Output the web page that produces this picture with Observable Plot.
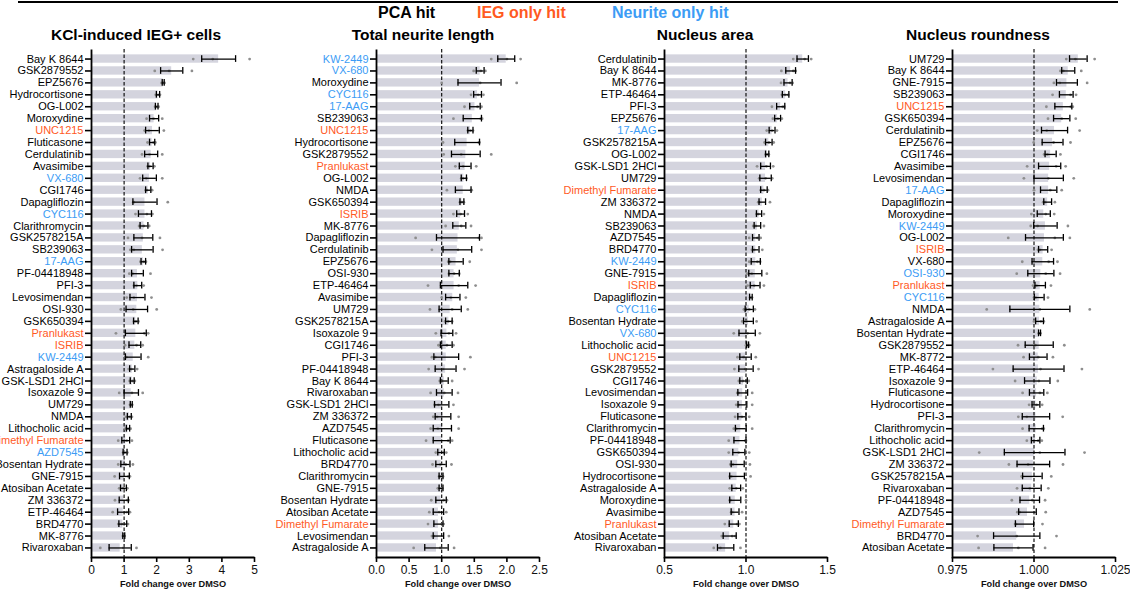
<!DOCTYPE html>
<html><head><meta charset="utf-8">
<script src="https://cdn.jsdelivr.net/npm/d3@7"></script>
<script src="https://cdn.jsdelivr.net/npm/@observablehq/plot@0.6"></script>
<style>
body{margin:0;width:1130px;height:595px;overflow:hidden;background:#fff;position:relative;font-family:"Liberation Sans",Arial,Helvetica,sans-serif;color:#000}
.topline{position:absolute;left:18px;top:1px;width:1100px;height:2px;background:#000}
.legend{position:absolute;top:4px;font-weight:bold;font-size:16px;line-height:18px;white-space:nowrap}
.title{position:absolute;top:26px;font-weight:bold;font-size:15.5px;line-height:18px;transform:translateX(-50%);white-space:nowrap}
.panel{position:absolute;top:40px;width:289px;height:555px}
</style></head>
<body>
<div class="topline"></div>
<div id="legend"></div>
<div id="root"></div>
<script>
// ---------- legend / colours ----------
const legendLabels = ["PCA hit", "IEG only hit", "Neurite only hit"];
const legendColors = ["#000000", "#FF5A1F", "#3C9CF5"];
const iegOnly = ["UNC1215", "Pranlukast", "ISRIB", "Dimethyl Fumarate"];

// ---------- panel 1: KCl-induced IEG+ cells ----------
const iegTitle = "KCl-induced IEG+ cells";
const iegNames = ["Bay K 8644","GSK2879552","EPZ5676","Hydrocortisone","OG-L002","Moroxydine","UNC1215","Fluticasone","Cerdulatinib","Avasimibe","VX-680","CGI1746","Dapagliflozin","CYC116","Clarithromycin","GSK2578215A","SB239063","17-AAG","PF-04418948","PFI-3","Levosimendan","OSI-930","GSK650394","Pranlukast","ISRIB","KW-2449","Astragaloside A","GSK-LSD1 2HCl","Isoxazole 9","UM729","NMDA","Lithocholic acid","Dimethyl Fumarate","AZD7545","Bosentan Hydrate","GNE-7915","Atosiban Acetate","ZM 336372","ETP-46464","BRD4770","MK-8776","Rivaroxaban"];
const iegMean = [3.90,2.46,2.20,2.04,2.00,1.92,1.87,1.86,1.83,1.81,1.78,1.74,1.64,1.64,1.61,1.59,1.56,1.59,1.41,1.42,1.41,1.39,1.36,1.36,1.33,1.28,1.25,1.25,1.22,1.22,1.16,1.12,1.05,1.03,1.04,1.01,0.98,0.99,0.97,0.96,0.99,0.88];
const iegSem = [0.52,0.34,0.03,0.05,0.04,0.14,0.21,0.08,0.20,0.08,0.21,0.08,0.37,0.20,0.12,0.29,0.33,0.07,0.18,0.12,0.23,0.33,0.07,0.32,0.18,0.24,0.08,0.06,0.22,0.03,0.06,0.05,0.12,0.06,0.14,0.15,0.09,0.14,0.17,0.12,0.03,0.34];
const iegReps = [[3.12,3.72,4.85],[1.94,2.38,3.08],[2.15,2.21,2.24],[1.97,2.05,2.10],[1.95,2.00,2.06],[1.69,1.90,2.17],[1.63,1.76,2.22],[1.72,1.90,1.96],[1.55,1.78,2.17],[1.72,1.78,1.93],[1.49,1.68,2.17],[1.66,1.70,1.86],[1.28,1.30,2.34],[1.35,1.70,1.87],[1.46,1.60,1.77],[1.12,1.55,2.10],[1.19,1.30,2.18],[1.50,1.60,1.67],[1.16,1.26,1.81],[1.30,1.38,1.60],[1.08,1.30,1.84],[0.90,1.28,2.00],[1.30,1.36,1.44],[0.75,1.62,1.74],[1.03,1.38,1.57],[1.04,1.07,1.74],[1.14,1.22,1.40],[1.17,1.26,1.33],[0.85,1.24,1.57],[1.18,1.22,1.25],[1.06,1.17,1.24],[1.04,1.12,1.20],[0.82,1.08,1.24],[0.97,1.02,1.10],[0.82,1.05,1.27],[0.71,1.13,1.18],[0.85,0.97,1.10],[0.72,1.10,1.14],[0.65,1.08,1.18],[0.82,0.93,1.12],[0.96,0.99,1.02],[0.27,0.98,1.38]];
const iegBlue = ["VX-680","CYC116","17-AAG","KW-2449","AZD7545"];
const iegTicks = [0,1,2,3,4,5];

// ---------- panel 2: Total neurite length ----------
const neuTitle = "Total neurite length";
const neuNames = ["KW-2449","VX-680","Moroxydine","CYC116","17-AAG","SB239063","UNC1215","Hydrocortisone","GSK2879552","Pranlukast","OG-L002","NMDA","GSK650394","ISRIB","MK-8776","Dapagliflozin","Cerdulatinib","EPZ5676","OSI-930","ETP-46464","Avasimibe","UM729","GSK2578215A","Isoxazole 9","CGI1746","PFI-3","PF-04418948","Bay K 8644","Rivaroxaban","GSK-LSD1 2HCl","ZM 336372","AZD7545","Fluticasone","Lithocholic acid","BRD4770","Clarithromycin","GNE-7915","Bosentan Hydrate","Atosiban Acetate","Dimethyl Fumarate","Levosimendan","Astragaloside A"];
const neuMean = [1.99,1.59,1.58,1.55,1.51,1.47,1.44,1.39,1.37,1.36,1.34,1.33,1.31,1.29,1.27,1.25,1.24,1.22,1.19,1.19,1.17,1.13,1.11,1.08,1.07,1.07,1.06,1.04,1.04,1.00,1.02,1.01,1.00,0.99,0.99,0.99,0.99,0.99,0.95,0.95,0.95,0.92];
const neuSem = [0.13,0.06,0.33,0.06,0.08,0.14,0.04,0.19,0.22,0.09,0.04,0.12,0.03,0.06,0.10,0.33,0.22,0.11,0.08,0.21,0.11,0.17,0.05,0.09,0.09,0.19,0.16,0.06,0.12,0.11,0.12,0.14,0.13,0.05,0.08,0.03,0.03,0.08,0.08,0.07,0.08,0.18];
const neuReps = [[1.76,2.00,2.21],[1.49,1.60,1.67],[1.00,1.59,2.15],[1.45,1.56,1.64],[1.35,1.55,1.61],[1.18,1.60,1.62],[1.40,1.44,1.48],[1.02,1.57,1.58],[1.03,1.30,1.76],[1.21,1.33,1.53],[1.30,1.33,1.38],[1.08,1.45,1.46],[1.28,1.31,1.34],[1.18,1.29,1.40],[1.06,1.30,1.45],[0.60,1.57,1.61],[0.85,1.25,1.61],[1.10,1.13,1.43],[1.11,1.19,1.27],[0.79,1.26,1.52],[1.00,1.14,1.37],[0.82,1.16,1.40],[1.05,1.10,1.16],[0.91,1.11,1.22],[0.95,1.08,1.18],[0.85,0.90,1.44],[0.80,1.02,1.35],[0.97,1.00,1.16],[0.83,1.04,1.25],[0.89,0.95,1.18],[0.87,0.93,1.26],[0.83,0.94,1.26],[0.76,1.10,1.16],[0.91,1.03,1.07],[0.86,0.98,1.15],[0.96,0.99,1.02],[0.94,1.00,1.01],[0.84,1.03,1.08],[0.81,0.96,1.07],[0.79,1.00,1.03],[0.85,0.88,1.11],[0.57,0.98,1.19]];
const neuBlue = ["KW-2449","VX-680","CYC116","17-AAG"];
const neuTicks = [0,0.5,1,1.5,2,2.5];

// ---------- panel 3: Nucleus area ----------
const areaTitle = "Nucleus area";
const areaNames = ["Cerdulatinib","Bay K 8644","MK-8776","ETP-46464","PFI-3","EPZ5676","17-AAG","GSK2578215A","OG-L002","GSK-LSD1 2HCl","UM729","Dimethyl Fumarate","ZM 336372","NMDA","SB239063","AZD7545","BRD4770","KW-2449","GNE-7915","ISRIB","Dapagliflozin","CYC116","Bosentan Hydrate","VX-680","Lithocholic acid","UNC1215","GSK2879552","CGI1746","Levosimendan","Isoxazole 9","Fluticasone","Clarithromycin","PF-04418948","GSK650394","OSI-930","Hydrocortisone","Astragaloside A","Moroxydine","Avasimibe","Pranlukast","Atosiban Acetate","Rivaroxaban"];
const areaMean = [1.348,1.274,1.258,1.243,1.213,1.194,1.160,1.140,1.130,1.120,1.120,1.110,1.100,1.080,1.070,1.060,1.060,1.060,1.057,1.056,1.030,1.020,1.015,1.007,1.010,0.997,1.000,0.985,0.980,0.978,0.975,0.968,0.963,0.956,0.949,0.945,0.940,0.934,0.933,0.925,0.900,0.875];
const areaSem = [0.035,0.030,0.025,0.020,0.025,0.018,0.018,0.020,0.010,0.030,0.035,0.020,0.020,0.016,0.020,0.020,0.020,0.028,0.040,0.030,0.008,0.025,0.030,0.050,0.006,0.035,0.044,0.023,0.030,0.027,0.025,0.033,0.037,0.037,0.040,0.045,0.027,0.034,0.024,0.028,0.040,0.050];
const areaReps = [[1.29,1.36,1.40],[1.217,1.29,1.305],[1.215,1.27,1.286],[1.22,1.24,1.26],[1.159,1.225,1.235],[1.165,1.195,1.22],[1.127,1.16,1.19],[1.114,1.14,1.17],[1.12,1.13,1.14],[1.068,1.125,1.167],[1.081,1.12,1.161],[1.09,1.11,1.135],[1.075,1.08,1.147],[1.065,1.075,1.11],[1.044,1.06,1.11],[1.02,1.07,1.09],[1.036,1.05,1.10],[1.02,1.07,1.087],[1.007,1.035,1.128],[1.01,1.05,1.11],[1.025,1.03,1.037],[0.987,1.02,1.055],[0.977,1.0,1.065],[0.925,1.01,1.085],[1.0,1.01,1.02],[0.948,0.985,1.06],[0.929,0.995,1.077],[0.956,0.98,1.017],[0.946,0.955,1.038],[0.94,0.955,1.038],[0.933,0.975,1.02],[0.925,0.94,1.038],[0.894,0.995,1.0],[0.894,0.955,1.02],[0.904,0.92,1.024],[0.90,0.91,1.028],[0.90,0.94,0.98],[0.90,0.905,1.0],[0.909,0.915,0.976],[0.87,0.945,0.96],[0.851,0.915,0.935],[0.802,0.843,0.966]];
const areaBlue = ["17-AAG","KW-2449","CYC116","VX-680"];
const areaTicks = [0.5,1.0,1.5];

// ---------- panel 4: Nucleus roundness ----------
const roundTitle = "Nucleus roundness";
const roundNames = ["UM729","Bay K 8644","GNE-7915","SB239063","UNC1215","GSK650394","Cerdulatinib","EPZ5676","CGI1746","Avasimibe","Levosimendan","17-AAG","Dapagliflozin","Moroxydine","KW-2449","OG-L002","ISRIB","VX-680","OSI-930","Pranlukast","CYC116","NMDA","Astragaloside A","Bosentan Hydrate","GSK2879552","MK-8772","ETP-46464","Isoxazole 9","Fluticasone","Hydrocortisone","PFI-3","Clarithromycin","Lithocholic acid","GSK-LSD1 2HCl","ZM 336372","GSK2578215A","Rivaroxaban","PF-04418948","AZD7545","Dimethyl Fumarate","BRD4770","Atosiban Acetate"];
const roundMean = [1.0136,1.0105,1.0101,1.0099,1.0090,1.0085,1.0063,1.0057,1.0051,1.0048,1.0045,1.0045,1.0042,1.0030,1.0035,1.0032,1.0028,1.0027,1.0021,1.0019,1.0016,1.0018,1.0017,1.0017,1.0016,1.0013,1.0014,1.0010,1.0008,1.0006,1.0006,1.0007,1.0005,1.0002,0.9998,0.9995,0.9993,0.9987,0.9980,0.9971,0.9947,0.9937];
const roundSem = [0.0027,0.0020,0.0032,0.0021,0.0026,0.0025,0.0040,0.0032,0.0017,0.0034,0.0045,0.0025,0.0012,0.0020,0.0036,0.0058,0.0014,0.0033,0.0040,0.0016,0.0015,0.0092,0.0012,0.0003,0.0043,0.0027,0.0078,0.0039,0.0022,0.0012,0.0042,0.0022,0.0013,0.0093,0.0050,0.0030,0.0029,0.0030,0.0027,0.0028,0.0071,0.0060];
const roundReps = [[1.0099,1.0127,1.0186],[1.0081,1.0090,1.0145],[1.0061,1.0079,1.0163],[1.0057,1.0112,1.0129],[1.0038,1.0113,1.0119],[1.0043,1.0085,1.0128],[1.0010,1.0039,1.0140],[0.9999,1.0060,1.0112],[1.0031,1.0041,1.0081],[0.9979,1.0068,1.0097],[0.9969,1.0044,1.0122],[1.0000,1.0050,1.0085],[1.0028,1.0034,1.0064],[0.9992,1.0036,1.0062],[0.9990,1.0011,1.0104],[0.9921,1.0064,1.0110],[1.0012,1.0018,1.0054],[0.9964,1.0045,1.0072],[0.9947,1.0036,1.0080],[0.9997,1.0008,1.0052],[1.0000,1.0005,1.0043],[0.9855,1.0018,1.0171],[1.0000,1.0021,1.0030],[1.0014,1.0017,1.0020],[0.9951,1.0004,1.0093],[0.9968,1.0013,1.0058],[0.9874,1.0020,1.0147],[0.9942,1.0015,1.0073],[0.9965,1.0018,1.0041],[0.9985,1.0008,1.0025],[0.9952,0.9978,1.0088],[0.9965,1.0025,1.0030],[0.9978,1.0013,1.0024],[0.9832,1.0018,1.0155],[0.9923,0.9982,1.0089],[0.9962,0.9964,1.0053],[0.9948,0.9987,1.0044],[0.9932,0.9995,1.0034],[0.9949,0.9956,1.0036],[0.9942,0.9945,1.0026],[0.9827,0.9947,1.0069],[0.9830,0.9952,1.0034]];
const roundBlue = ["17-AAG","KW-2449","OSI-930","CYC116"];
const roundTicks = [0.975,1.0,1.025];

const axisLabel = "Fold change over DMSO";

// ---------- layout (presentation only) ----------
const FONT = '"Liberation Sans", Arial, Helvetica, sans-serif';
const W = 289, H = 555, ML = 114, MR = 12, MT = 9, MB = 38;
const barColor = "#d4d4de", dotColor = "#8e8e8e";

const legend = document.getElementById("legend");
[378, 477, 612].forEach((left, i) => {
  const d = document.createElement("div");
  d.className = "legend";
  d.style.left = left + "px";
  d.style.color = legendColors[i];
  d.textContent = legendLabels[i];
  legend.appendChild(d);
});

function panel(cfg) {
  const {title, names, mean, sem, reps, blue, ticks, fmt, left, titleX} = cfg;
  const colorOf = n => iegOnly.includes(n) ? legendColors[1] : blue.includes(n) ? legendColors[2] : legendColors[0];
  const rows = names.map((n, i) => ({name: n, mean: mean[i], sem: sem[i]}));
  const pts = names.flatMap((n, i) => reps[i].map(v => ({name: n, v})));
  const x0 = ticks[0], x1 = ticks[ticks.length - 1];
  const fw = W - ML - MR, fh = H - MT - MB;
  const chart = Plot.plot({
    width: W, height: H,
    marginLeft: ML, marginRight: MR, marginTop: MT, marginBottom: MB,
    style: {background: "transparent", overflow: "visible", fontFamily: FONT},
    x: {domain: [x0, x1]},
    y: {domain: names, paddingInner: 0.3, paddingOuter: 0.45},
    color: {type: "identity"},
    marks: [
      Plot.barX(rows, {x1: () => x0, x2: "mean", y: "name", fill: barColor}),
      Plot.ruleX([1], {stroke: "#000", strokeWidth: 1.1, strokeDasharray: "3.5,2"}),
      Plot.dot(pts, {x: "v", y: "name", r: 1.4, fill: dotColor}),
      Plot.ruleY(rows, {x1: d => d.mean - d.sem, x2: d => d.mean + d.sem, y: "name", stroke: "#000", strokeWidth: 1.3}),
      Plot.tickX(rows, {x: d => d.mean - d.sem, y: "name", stroke: "#000", strokeWidth: 1.3, insetTop: 0.8, insetBottom: 0.8}),
      Plot.tickX(rows, {x: d => d.mean + d.sem, y: "name", stroke: "#000", strokeWidth: 1.3, insetTop: 0.8, insetBottom: 0.8}),
      Plot.frame({stroke: "#000", strokeWidth: 1.8, strokeDasharray: `0 ${fw + fh} ${fw + fh}`}),
      Plot.axisY({tickSize: 6, tickFormat: () => "", strokeWidth: 1.6, label: null}),
      Plot.text(names, {y: d => d, frameAnchor: "left", textAnchor: "end", dx: -8, fontSize: 11, fill: colorOf}),
      Plot.axisX({ticks, tickFormat: fmt, tickSize: 5, tickPadding: 3, fontSize: 12, strokeWidth: 1.6, label: null, fill: "#111"}),
      Plot.text([axisLabel], {frameAnchor: "bottom", dy: 29, fontSize: 9.2, fontWeight: "bold", fill: "#111"})
    ]
  });
  const div = document.createElement("div");
  div.className = "panel";
  div.style.left = left + "px";
  div.appendChild(chart);
  document.getElementById("root").appendChild(div);
  const t = document.createElement("div");
  t.className = "title";
  t.style.left = titleX + "px";
  t.textContent = title;
  document.getElementById("root").appendChild(t);
}

panel({title: iegTitle, names: iegNames, mean: iegMean, sem: iegSem, reps: iegReps, blue: iegBlue, ticks: iegTicks, fmt: d3.format("d"), left: 91 - ML, titleX: 136});
panel({title: neuTitle, names: neuNames, mean: neuMean, sem: neuSem, reps: neuReps, blue: neuBlue, ticks: neuTicks, fmt: d3.format(".1f"), left: 376 - ML, titleX: 423});
panel({title: areaTitle, names: areaNames, mean: areaMean, sem: areaSem, reps: areaReps, blue: areaBlue, ticks: areaTicks, fmt: d3.format(".1f"), left: 664 - ML, titleX: 705});
panel({title: roundTitle, names: roundNames, mean: roundMean, sem: roundSem, reps: roundReps, blue: roundBlue, ticks: roundTicks, fmt: d3.format(".3f"), left: 952 - ML, titleX: 978});
</script>
</body></html>
